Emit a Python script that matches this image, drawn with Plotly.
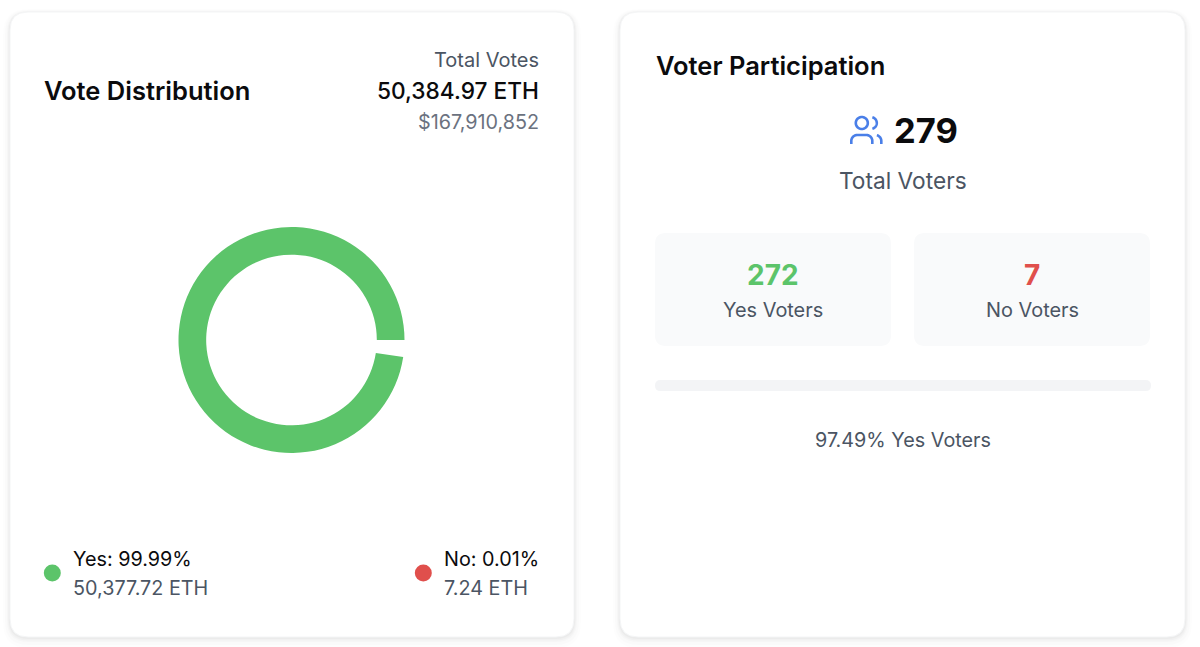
import math
import plotly.graph_objects as go

# Vote figures
vote_labels = ["Yes", "No"]
vote_eth = [50377.72, 7.24]
vote_share = ["99.99%", "0.01%"]
total_votes_label = "50,384.97 ETH"
total_usd = "$167,910,852"

# Voter figures
total_voters = 279
yes_voters = 272
no_voters = 7
yes_voter_share = "97.49%"

GREEN = "#5cc46a"
RED = "#e04f4c"
INK = "#0b0b0d"
SLATE = "#4b5563"
MUTED = "#6b7280"
FONT = "Inter"

# Empty arc left after the slices, expressed in vote units so the ring keeps its proportions
GAP_DEG = 8.7
gap_value = sum(vote_eth) * GAP_DEG / (360 - GAP_DEG)


def rounded(x0, y0, x1, y1, r):
    """Rounded rectangle as an SVG path, built from absolute commands."""
    return (
        f"M{x0+r},{y0} L{x1-r},{y0} Q{x1},{y0} {x1},{y0+r} L{x1},{y1-r} "
        f"Q{x1},{y1} {x1-r},{y1} L{x0+r},{y1} Q{x0},{y1} {x0},{y1-r} "
        f"L{x0},{y0+r} Q{x0},{y0} {x0+r},{y0} Z"
    )


def arc(cx, cy, r, a0, a1, n=24):
    return [
        (cx + r * math.cos(math.radians(a0 + (a1 - a0) * i / n)),
         cy + r * math.sin(math.radians(a0 + (a1 - a0) * i / n)))
        for i in range(n + 1)
    ]


def icon_path(points, sx=1.5, ox=848.3, oy=112.5):
    return "M" + " L".join(f"{ox + x * sx:.2f},{oy + y * sx:.2f}" for x, y in points)


shapes = []


def card(x0, y0, x1, y1, r):
    # Soft drop shadow made of stacked translucent outlines
    for grow, dy, alpha in [(7, 4, 0.006), (5, 3, 0.01), (3, 2, 0.015), (2, 1.5, 0.02), (1, 1, 0.025)]:
        shapes.append(dict(type="path", path=rounded(x0 - grow, y0 - grow + dy, x1 + grow, y1 + grow + dy, r + grow),
                           fillcolor=f"rgba(0,0,0,{alpha})", line=dict(width=0), layer="below"))
    shapes.append(dict(type="path", path=rounded(x0, y0, x1, y1, r), fillcolor="#ffffff",
                       line=dict(color="#f4f5f6", width=1), layer="below"))


card(10, 12, 574, 637, 18)
card(620, 12, 1185, 637, 18)

# Stat tiles and the participation track
for x0, x1 in [(655, 891), (914, 1150)]:
    shapes.append(dict(type="path", path=rounded(x0, 233, x1, 346, 11), fillcolor="#f9fafb",
                       line=dict(width=0), layer="below"))
shapes.append(dict(type="path", path=rounded(655, 380, 1151, 391, 5.5), fillcolor="#f3f4f6",
                   line=dict(width=0), layer="below"))

# Two-person icon beside the voter total
icon_parts = [
    [(16, 21)] + arc(12, 19, 4, 0, -90) + arc(6, 19, 4, -90, -180) + [(2, 21)],
    arc(9, 7, 4, 0, 360, 48),
    [(22, 21)] + arc(18, 19, 4, 0, -75),
    arc(15, 7, 4, -75, 75),
]
for part in icon_parts:
    shapes.append(dict(type="path", path=icon_path(part), line=dict(color="#4a7fe8", width=2.6),
                       fillcolor="rgba(0,0,0,0)"))

texts = [
    ("Vote Distribution", 44, 90.3, "left", 25.5, 600, INK),
    ("Total Votes", 539, 60, "right", 20, 400, SLATE),
    (total_votes_label, 539, 90.3, "right", 22.7, 500, INK),
    (total_usd, 539, 122, "right", 19.8, 400, MUTED),
    (f"{vote_labels[0]}: {vote_share[0]}", 72.5, 559, "left", 19.8, 400, INK),
    (f"{vote_eth[0]:,.2f} ETH", 72.5, 587.5, "left", 19.8, 400, SLATE),
    (f"{vote_labels[1]}: {vote_share[1]}", 443.5, 559, "left", 19.8, 400, INK),
    (f"{vote_eth[1]:,.2f} ETH", 443.5, 587.5, "left", 19.8, 400, SLATE),
    ("Voter Participation", 655.5, 65.3, "left", 25.5, 600, INK),
    (str(total_voters), 894, 130, "left", 34.5, 700, INK),
    ("Total Voters", 903, 180.5, "center", 22.7, 400, SLATE),
    (str(yes_voters), 773, 275, "center", 28, 700, GREEN),
    ("Yes Voters", 773, 310, "center", 19.9, 400, SLATE),
    (str(no_voters), 1032, 275, "center", 28, 700, RED),
    ("No Voters", 1032, 310, "center", 19.9, 400, SLATE),
    (f"{yes_voter_share} Yes Voters", 903, 440, "center", 19.8, 400, SLATE),
]
annotations = [
    dict(text=t, x=x, y=y, xref="x", yref="y", xanchor=a, yanchor="middle", showarrow=False,
         borderpad=0, borderwidth=0, font=dict(family=FONT, size=s, weight=w, color=c))
    for t, x, y, a, s, w, c in texts
]

fig = go.Figure()

# Ring: one clockwise sweep that ends at the three o'clock position
fig.add_trace(go.Pie(
    labels=vote_labels + ["gap"],
    values=vote_eth + [gap_value],
    marker=dict(colors=[GREEN, RED, "rgba(0,0,0,0)"], line=dict(width=0)),
    hole=0.755,
    sort=False,
    direction="clockwise",
    rotation=90 + GAP_DEG,
    textinfo="none",
    hoverinfo="skip",
    showlegend=False,
    domain=dict(x=[178.5 / 1200, 404.5 / 1200], y=[1 - 453 / 647, 1 - 227 / 647]),
))

# Legend dots
fig.add_trace(go.Scatter(
    x=[52.3, 423.3], y=[573, 573], mode="markers",
    marker=dict(size=17, color=[GREEN, RED], line=dict(width=0)),
    hoverinfo="skip", showlegend=False,
))

fig.update_layout(
    width=1200, height=647,
    margin=dict(l=0, r=0, t=0, b=0),
    paper_bgcolor="#ffffff", plot_bgcolor="rgba(0,0,0,0)",
    xaxis=dict(range=[0, 1200], visible=False, fixedrange=True),
    yaxis=dict(range=[647, 0], visible=False, fixedrange=True),
    shapes=shapes,
    annotations=annotations,
)

fig.write_html("out.html", config=dict(displayModeBar=False))
